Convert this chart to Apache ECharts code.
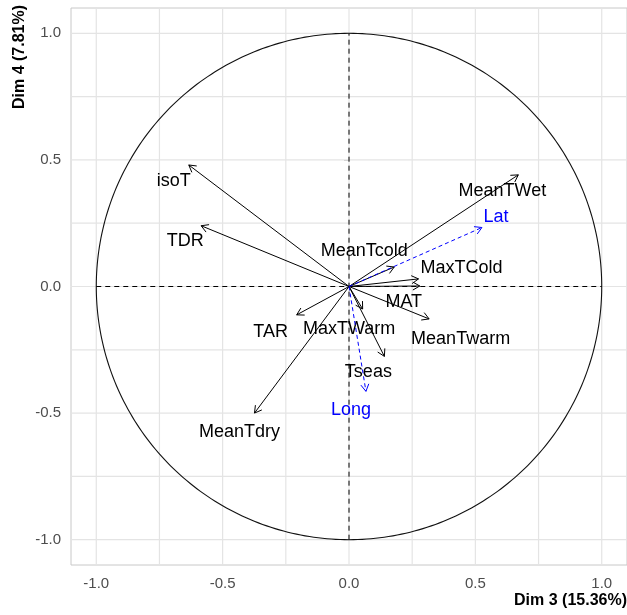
<!DOCTYPE html>
<html>
<head>
<meta charset="utf-8">
<script src="https://cdn.jsdelivr.net/npm/echarts@6/dist/echarts.min.js"></script>
<style>
  html, body { margin: 0; padding: 0; background: #ffffff; }
  #chart { width: 627px; height: 615px; }
</style>
</head>
<body>
<div id="chart"></div>
<script>
// Active variables: correlations with Dim 3 and Dim 4
const activeNames = ['isoT', 'TDR', 'MeanTWet', 'MeanTcold', 'MaxTCold', 'MAT', 'MeanTwarm', 'MaxTWarm', 'TAR', 'Tseas', 'MeanTdry'];
const activeDim3  = [-0.634, -0.585, 0.670, 0.179, 0.275, 0.280, 0.317, 0.054, -0.207, 0.140, -0.374];
const activeDim4  = [0.480, 0.240, 0.441, 0.077, 0.030, 0.002, -0.128, -0.089, -0.112, -0.276, -0.500];

// Supplementary variables
const suppNames = ['Lat', 'Long'];
const suppDim3  = [0.526, 0.067];
const suppDim4  = [0.233, -0.414];

// Axis ticks and grid positions
const tickValues = [-1, -0.5, 0, 0.5, 1];
const gridValues = [-1, -0.75, -0.5, -0.25, 0, 0.25, 0.5, 0.75, 1];

// Label nudges in pixels (repelled text placement)
const labelNudge = {
  isoT: [-15, 16], TDR: [-16, 15.5], MeanTWet: [-16, 16.5], MeanTcold: [-30, -16],
  MaxTCold: [43, -11], MAT: [-16, 16], MeanTwarm: [31.5, 20], MaxTWarm: [-13.6, 19.7],
  TAR: [-26, 17.5], Tseas: [-16, 16], MeanTdry: [-15, 19], Lat: [14, -10.7], Long: [-15, 19]
};

const FONT = '"Liberation Sans", Arial, sans-serif';

function zip(xs, ys) { return xs.map((x, i) => [x, ys[i]]); }

function arrowRenderer(names, color, dashed) {
  return function (params, api) {
    const o = api.coord([0, 0]);
    const p = api.coord([api.value(0), api.value(1)]);
    const ang = Math.atan2(p[1] - o[1], p[0] - o[0]);
    const L = 8, a = Math.PI / 6;
    const h1 = [p[0] - L * Math.cos(ang - a), p[1] - L * Math.sin(ang - a)];
    const h2 = [p[0] - L * Math.cos(ang + a), p[1] - L * Math.sin(ang + a)];
    const name = names[params.dataIndex];
    const nudge = labelNudge[name] || [0, 0];
    return {
      type: 'group',
      children: [
        { type: 'line', shape: { x1: o[0], y1: o[1], x2: p[0], y2: p[1] },
          style: { stroke: color, lineWidth: 1, lineDash: dashed ? [4, 3] : null, fill: null } },
        { type: 'polyline', shape: { points: [h1, p, h2] },
          style: { stroke: color, lineWidth: 1, fill: null } },
        { type: 'text', x: p[0] + nudge[0], y: p[1] + nudge[1],
          style: { text: name, fill: color, font: '18px ' + FONT,
                   align: 'center', verticalAlign: 'middle',
                   textAlign: 'center', textVerticalAlign: 'middle' } }
      ]
    };
  };
}

const axisCommon = {
  type: 'value', min: -1.1, max: 1.1,
  axisLine: { show: false },
  splitLine: { show: false },
  axisTick: { show: true, length: 5, customValues: tickValues, lineStyle: { color: '#c4c4c4', width: 1 } },
  axisLabel: { customValues: tickValues, color: '#4d4d4d', fontSize: 15, fontFamily: FONT,
               formatter: v => v.toFixed(1) }
};

const option = {
  animation: false,
  backgroundColor: '#ffffff',
  grid: { left: 71, top: 8, width: 557, height: 557, show: true, borderColor: '#c8c8c8', borderWidth: 1 },
  xAxis: Object.assign({}, axisCommon, { axisLabel: Object.assign({}, axisCommon.axisLabel, { margin: 11 }) }),
  yAxis: Object.assign({}, axisCommon, { axisLabel: Object.assign({}, axisCommon.axisLabel, { margin: 10 }) }),
  graphic: [
    { type: 'text', right: 0, top: 593,
      style: { text: 'Dim 3 (15.36%)', font: 'bold 16px ' + FONT, fill: '#000' } },
    { type: 'text', x: 20, y: 5, rotation: Math.PI / 2,
      style: { text: 'Dim 4 (7.81%)', font: 'bold 16px ' + FONT, fill: '#000',
               align: 'right', verticalAlign: 'middle', textAlign: 'right', textVerticalAlign: 'middle' } }
  ],
  series: [
    { // panel grid lines
      type: 'custom', silent: true, z: 1, data: gridValues.map(v => [v, v]),
      renderItem: function (params, api) {
        const cs = params.coordSys;
        const v = api.value(0);
        const px = api.coord([v, 0])[0];
        const py = api.coord([0, v])[1];
        const st = { stroke: '#e4e4e4', lineWidth: 1.2 };
        return { type: 'group', children: [
          { type: 'line', shape: { x1: px, y1: cs.y, x2: px, y2: cs.y + cs.height }, style: st },
          { type: 'line', shape: { x1: cs.x, y1: py, x2: cs.x + cs.width, y2: py }, style: st }
        ] };
      }
    },
    { // unit correlation circle and dashed reference axes
      type: 'custom', silent: true, z: 2, data: [[0, 0]],
      renderItem: function (params, api) {
        const pts = [];
        for (let t = 0; t <= 360; t += 1) {
          const r = t * Math.PI / 180;
          pts.push(api.coord([Math.cos(r), Math.sin(r)]));
        }
        const l = api.coord([-1, 0]), r = api.coord([1, 0]);
        const b = api.coord([0, -1]), t = api.coord([0, 1]);
        const dash = { stroke: '#000', lineWidth: 1, lineDash: [5, 4] };
        return { type: 'group', children: [
          { type: 'polyline', shape: { points: pts }, style: { stroke: '#111', lineWidth: 1.1, fill: null } },
          { type: 'line', shape: { x1: l[0], y1: l[1], x2: r[0], y2: r[1] }, style: dash },
          { type: 'line', shape: { x1: b[0], y1: b[1], x2: t[0], y2: t[1] }, style: dash }
        ] };
      }
    },
    {
      name: 'Active', type: 'custom', z: 3, silent: true,
      data: zip(activeDim3, activeDim4),
      renderItem: arrowRenderer(activeNames, '#000000', false)
    },
    {
      name: 'Supplementary', type: 'custom', z: 4, silent: true,
      data: zip(suppDim3, suppDim4),
      renderItem: arrowRenderer(suppNames, '#0000ff', true)
    }
  ]
};

const chart = echarts.init(document.getElementById('chart'), null, { renderer: 'canvas' });
chart.setOption(option);
</script>
</body>
</html>
